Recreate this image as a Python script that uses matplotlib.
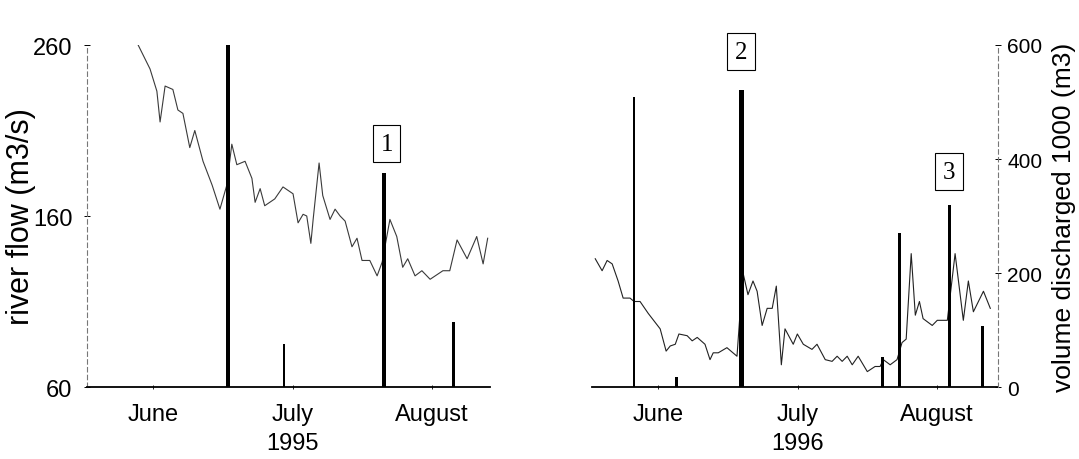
import matplotlib
matplotlib.use("Agg")
import matplotlib.pyplot as plt

plt.rcParams['font.family'] = ['Liberation Sans', 'DejaVu Sans']

# river flow (m3/s), x = days since 1 June
flow95_day = [11.2, 13.8, 15.3, 16.0, 17.1, 18.8, 19.9, 21.0, 22.5, 23.6, 25.4, 27.4,
              29.1, 30.6, 31.7, 32.8, 34.6, 36.1, 36.8, 37.9, 38.9, 41.1, 42.9, 45.1,
              46.2, 47.3, 48.1, 49.0, 49.5, 50.8, 51.6, 53.2, 54.3, 55.4, 56.5, 58.0,
              59.1, 60.2, 61.9, 63.5, 64.6, 66.3, 67.8, 69.1, 70.2, 71.8, 73.3, 75.1,
              77.9, 79.4, 81.0, 83.2, 85.3, 86.7, 87.7]
flow95 = [260, 246, 233, 215, 236, 234, 222, 220, 200, 210, 192, 178,
          164, 178, 202, 190, 192, 182, 168, 176, 166, 170, 177, 173,
          156, 161, 160, 144, 158, 191, 172, 158, 164, 160, 157, 142,
          147, 134, 134, 125, 133, 158, 148, 130, 135, 125, 128, 123,
          128, 128, 146, 135, 148, 132, 147]

flow96_day = [0.7, 2.2, 3.3, 4.4, 5.7, 6.8, 8.3, 9.2, 10.5, 12.3, 14.9, 16.2,
              17.1, 18.2, 19.0, 20.8, 21.9, 23.0, 24.7, 25.8, 26.5, 27.6, 29.5, 31.7,
              33.0, 34.1, 35.2, 36.1, 37.2, 38.3, 39.4, 40.3, 41.4, 42.2, 44.0, 44.9,
              46.2, 48.1, 49.2, 51.0, 52.5, 53.6, 54.7, 55.8, 56.9, 58.2, 60.2, 61.9,
              63.0, 63.7, 65.2, 66.7, 67.8, 68.7, 69.8, 70.7, 71.6, 72.4, 74.4, 75.5,
              77.7, 79.4, 81.2, 82.3, 83.4, 85.6, 87.1]
flow96 = [135, 128, 134, 132, 122, 112, 112, 110, 110, 103, 94, 81,
          84, 85, 91, 90, 87, 89, 85, 76, 80, 80, 83, 78,
          127, 114, 122, 116, 96, 106, 106, 119, 73, 94, 85, 91,
          85, 82, 85, 76, 75, 78, 75, 78, 73, 78, 69, 72,
          72, 76, 73, 76, 86, 88, 138, 102, 110, 100, 96, 99,
          99, 138, 99, 122, 104, 116, 106]

# volume discharged (1000 m3)
vol95_day = [30.9, 43.1, 65.0, 80.3]
vol95 = [600, 75, 375, 114]
vol96_day = [9.2, 18.4, 32.6, 63.5, 67.2, 78.1, 85.3]
vol96 = [509, 18, 521, 52, 271, 320, 107]

# numbered events
events95 = [("1", 65.6, 427)]
events96 = [("2", 32.6, 588), ("3", 78.1, 378)]

months = ["June", "July", "August"]
month_pos = [14.5, 45, 75.5]
years = ["1995", "1996"]

bar_w95 = [1.0, 0.45, 0.75, 0.65]
bar_w96 = [0.45, 0.65, 1.1, 0.65, 0.75, 0.65, 0.65]

fig = plt.figure(figsize=(10.79, 4.60), dpi=100)
ax1 = fig.add_axes([0.0806, 0.1565, 0.3735, 0.7435])
ax2 = fig.add_axes([0.5487, 0.1565, 0.3763, 0.7435])
bx1 = ax1.twinx()
bx2 = ax2.twinx()

ax1.plot(flow95_day, flow95, color='#3a3a3a', lw=0.8)
ax2.plot(flow96_day, flow96, color='#222222', lw=0.8)
bx1.bar(vol95_day, vol95, width=bar_w95, color='black')
bx2.bar(vol96_day, vol96, width=bar_w96, color='black')

box = dict(boxstyle='square,pad=0.3', fc='white', ec='black', lw=0.8)
for bx, events in ((bx1, events95), (bx2, events96)):
    for label, d, v in events:
        bx.text(d, v, label, ha='center', va='center', fontsize=18,
                family='Liberation Serif', bbox=box, clip_on=False)

for ax, xmax, year in ((ax1, 88.2, years[0]), (ax2, 88.8, years[1])):
    ax.set_xlim(0, xmax)
    ax.set_ylim(60, 260)
    ax.set_xticks(month_pos)
    ax.set_xticklabels([months[0], months[1] + "\n" + year, months[2]],
                       fontsize=17, linespacing=1.4)
    ax.tick_params(axis='x', length=3, direction='inout', width=0.6, pad=10)
    ax.spines['top'].set_visible(False)
    ax.spines['right'].set_visible(False)
    ax.spines['bottom'].set_linewidth(1.3)
    ax.set_facecolor('none')

for bx in (bx1, bx2):
    bx.set_ylim(0, 600)
    for s in ('top', 'left', 'bottom'):
        bx.spines[s].set_visible(False)

# left panel: river flow axis
ax1.set_yticks([60, 160, 260])
ax1.tick_params(axis='y', labelsize=17, length=5, direction='inout', width=0.7, pad=8)
ax1.spines['left'].set_color('#777777')
ax1.spines['left'].set_linestyle((0, (4, 3)))
ax1.spines['left'].set_linewidth(0.8)
ax1.set_ylabel("river flow (m3/s)", fontsize=22)
ax1.yaxis.set_label_coords(-0.127, 0.50)
bx1.spines['right'].set_visible(False)
bx1.set_yticks([])

# right panel: volume axis
ax2.spines['left'].set_visible(False)
ax2.set_yticks([])
bx2.set_yticks([0, 200, 400, 600])
bx2.tick_params(axis='y', labelsize=15, length=5, direction='inout', width=0.7, pad=4)
bx2.spines['right'].set_color('#777777')
bx2.spines['right'].set_linestyle((0, (4, 3)))
bx2.spines['right'].set_linewidth(0.8)
bx2.set_ylabel("volume discharged 1000 (m3)", fontsize=19)
bx2.yaxis.set_label_coords(1.132, 0.50)

fig.savefig("out.png", dpi=100)
